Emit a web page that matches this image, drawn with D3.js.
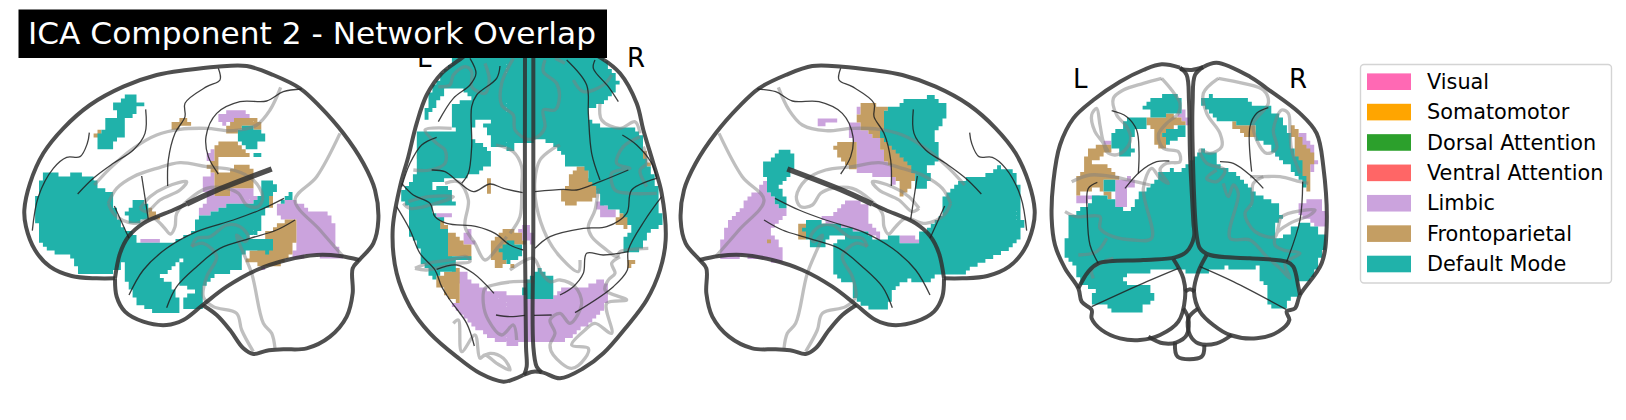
<!DOCTYPE html>
<html>
<head>
<meta charset="utf-8">
<script src="https://cdn.jsdelivr.net/npm/d3@7"></script>
<style>
html, body { margin: 0; padding: 0; background: #fff; overflow: hidden; }
text { font-family: "DejaVu Sans", sans-serif; }
</style>
</head>
<body>
<div id="main"></div>
<script>
var titleText = "ICA Component 2 - Network Overlap";
var networkNames = ["Visual", "Somatomotor", "Dorsal Attention", "Ventral Attention", "Limbic", "Frontoparietal", "Default Mode"];
var networkColors = ["#FF69B4", "#FFA500", "#2CA02C", "#FF6666", "#CBA3DD", "#C49E63", "#20B2AA"];

// glass brain template, side view (the right hand view is the same one flipped)
var sagOutline = [
  [[345,715],[290,715],[215,708],[150,680],[105,630],[78,560],[73,510],[90,430],[130,340],[190,265],[270,195],[370,140],[470,105],[560,90],[650,80],[740,78],[820,105],[900,145],[960,200],[1030,280],[1090,370],[1125,450],[1135,540],[1120,610],[1078,660],[1058,685],[1058,760],[1040,830],[990,890],[920,925],[850,928],[800,932],[760,942],[730,925],[690,870],[650,825],[608,795]],
  [[345,715],[350,770],[375,815],[430,845],[500,855],[550,840],[608,795],[680,740],[770,690],[860,660],[950,645],[1020,648],[1078,660]],
  [[345,715],[360,640],[385,590],[430,550],[520,510],[560,492]]
];
var sagThick = [
  [[560,492],[640,455],[815,387]]
];
var sagGray = [
  [[283,435],[330,385],[400,325],[470,285],[540,268],[620,265],[700,272],[770,255],[810,210],[842,142]],
  [[1020,280],[950,410],[885,480],[960,570],[1030,650]],
  [[325,490],[345,525],[400,550],[460,535],[490,560],[512,582],[525,560],[530,520],[565,480],[620,445],[680,445],[715,460],[740,495],[775,500],[788,470],[760,420],[700,390],[620,380],[540,368],[470,385],[400,410],[350,445],[325,490]],
  [[420,505],[450,470],[500,440],[560,425],[540,450],[480,480],[440,515],[420,505]],
  [[575,620],[590,595],[630,590],[680,555],[720,560],[745,590],[735,605],[710,585],[755,700],[790,850],[815,880],[825,925]],
  [[575,620],[610,610],[650,650],[620,710],[610,770],[640,800],[710,820],[725,870],[760,935]]
];
var sagThin = [
  [[97,572],[115,470],[160,385],[200,352],[240,350],[262,310],[268,278]],
  [[233,462],[280,415],[340,370],[400,330],[435,280],[437,208]],
  [[503,438],[505,360],[525,280],[555,230],[555,190],[620,140],[660,120],[655,85]],
  [[655,402],[625,350],[618,290],[650,220],[720,185],[800,183],[850,155],[905,147]],
  [[425,408],[445,538]],
  [[343,498],[387,595]],
  [[387,765],[430,690],[500,625],[590,575],[700,540],[780,510],[852,475]],
  [[500,803],[530,740],[590,680],[660,625],[750,595],[830,570],[885,540]]
];

// top view
var axialOutline = [
  [[470,10],[340,40],[270,88],[215,130],[170,195],[140,280],[115,380],[90,470],[68,600],[80,730],[120,830],[180,910],[260,980],[330,1030],[400,1055],[430,1048],[460,1035]],
  [[470,10],[600,40],[695,85],[750,130],[800,220],[820,300],[850,400],[875,490],[887,630],[870,720],[830,810],[770,890],[700,970],[640,1015],[570,1045],[520,1028],[490,1025],[460,1035]],
  [[465,60],[465,600],[468,950],[470,1010],[462,1035]],
  [[490,60],[490,600],[490,950],[500,1010],[515,1027]]
];
var axialGray = [
  [[205,170],[240,165],[250,135],[285,110],[305,125],[305,170],[325,185],[345,190],[358,150],[345,100]],
  [[430,85],[395,160],[395,225],[430,255],[435,300],[475,328],[510,315],[525,290],[520,240],[555,240],[568,205],[560,160],[520,125],[525,90]],
  [[555,85],[585,100]],
  [[610,150],[640,185],[700,165],[725,135]],
  [[690,220],[695,270],[750,295],[795,275],[810,310]],
  [[810,320],[760,350],[740,400],[780,415],[750,420],[725,430],[735,480],[780,490],[860,490]],
  [[830,470],[810,420],[830,400],[820,350]],
  [[570,345],[550,355],[510,390],[495,450],[500,530],[530,620],[570,680],[625,725],[630,690]],
  [[685,475],[675,540],[655,590],[665,620],[710,660],[740,680],[750,665],[835,655]],
  [[750,680],[725,700],[735,730],[715,750],[705,780],[770,810],[710,820],[725,910],[675,880],[645,900],[605,945],[655,955],[645,985],[605,1015],[550,975],[540,945],[555,910],[540,870],[570,850],[600,880],[635,820],[615,770],[570,750],[540,755],[515,730],[490,685],[420,720]],
  [[490,755],[430,755],[370,765],[345,775],[340,820],[355,870],[395,915],[430,885],[440,930]],
  [[250,880],[265,870],[275,965],[315,915],[330,985],[345,975],[380,1000],[420,1020],[400,985],[360,970],[330,985]],
  [[378,345],[430,365],[455,410],[455,470],[450,560],[420,610]],
  [[225,460],[265,455],[295,510],[285,590],[315,640],[345,690],[385,650],[410,620]],
  [[135,715],[175,700],[240,690],[290,680],[300,695],[260,700],[170,720],[135,715]],
  [[100,520],[120,535],[180,525],[250,500],[175,500],[115,515]],
  [[130,420],[180,420],[225,400],[225,360],[200,340],[165,300],[245,295]]
];
var axialThin = [
  [[300,85],[318,130],[300,165],[250,205],[205,275]],
  [[390,108],[380,145],[320,195],[305,230],[305,350],[295,430],[275,460]],
  [[200,322],[155,345],[120,400],[95,470]],
  [[185,420],[225,425],[270,460],[310,485],[360,462],[400,475],[458,488]],
  [[95,460],[130,495],[180,520],[195,560],[230,580],[320,590],[375,610],[420,645],[460,660]],
  [[80,530],[120,600],[150,670],[195,720],[215,770],[240,810],[290,880],[313,948]],
  [[200,718],[260,705],[310,730],[372,790]],
  [[378,855],[420,860],[465,856]],
  [[492,856],[545,855]],
  [[495,485],[580,478],[620,480],[690,455],[775,420]],
  [[590,90],[650,165],[655,250],[665,370],[690,450]],
  [[675,90],[670,115],[715,170],[745,215]],
  [[757,315],[800,345],[845,400],[860,445]],
  [[495,655],[540,620],[640,595],[710,590],[770,550],[785,480],[860,445]],
  [[875,500],[825,570],[775,660],[772,720],[730,770],[615,848]],
  [[775,665],[700,675],[650,670],[640,730],[610,770],[570,795]]
];

// back view
var coronalOutline = [
  [[510,38],[455,28],[400,45],[330,80],[250,135],[190,190],[150,270],[130,380],[125,490],[135,570],[165,640],[205,700],[215,740],[245,765],[245,790],[275,825],[330,850],[390,855],[450,840],[505,800],[525,730],[520,670],[490,612]],
  [[510,38],[530,60],[537,140],[540,300],[550,500],[552,545],[530,590],[495,607],[400,615],[265,625],[235,650],[205,700]],
  [[510,42],[545,45],[580,36]],
  [[580,36],[620,23],[720,65],[770,100],[870,175],[920,235],[940,335],[950,515],[935,625],[870,720],[855,760],[830,770],[838,795],[805,830],[740,850],[660,840],[610,810],[570,770],[552,710],[565,650],[590,600]],
  [[580,36],[555,60],[548,140],[548,280],[560,540],[570,580],[600,600],[720,610],[830,620],[850,635],[865,695],[870,720]],
  [[415,845],[460,865],[500,862],[530,840],[535,790],[520,760]],
  [[525,710],[540,703],[555,710]],
  [[665,840],[620,865],[565,865],[540,840],[535,790],[565,760]],
  [[495,862],[503,905],[575,905],[583,870]]
];
var coronalGray = [
  [[455,70],[400,85],[340,105],[310,130],[320,180],[350,215],[362,250],[345,285],[315,300],[290,290],[280,265],[255,230],[245,180],[260,160],[270,210],[280,260],[295,290]],
  [[455,70],[485,105],[510,145],[505,175],[470,205],[445,240],[460,280],[505,290],[510,320],[470,325],[450,345],[475,385],[450,370],[425,340],[400,400],[425,550],[370,555],[310,545],[270,520],[270,485],[200,485],[165,470]],
  [[185,380],[240,360],[310,365],[355,375],[420,390]],
  [[205,600],[260,590],[290,550]],
  [[250,670],[245,645],[280,620],[310,610]],
  [[625,70],[700,85],[760,105],[775,145],[730,205],[740,255],[770,295],[800,280],[790,225],[815,165],[835,175],[840,230],[845,285],[870,355]],
  [[625,70],[580,115],[590,175],[630,235],[635,275],[600,295],[570,285],[590,325],[645,345],[620,380],[590,370],[620,345]],
  [[760,365],[730,385],[725,445],[705,475],[735,530],[795,545],[805,515],[815,485],[915,465],[900,480],[840,505],[800,535],[795,570],[820,585],[870,595],[825,625],[840,670],[810,640],[770,605],[720,555],[660,550],[685,415],[670,390],[655,425],[640,385]],
  [[720,365],[760,365],[810,365],[870,380],[895,385]]
];
var coronalThin = [
  [[305,167],[350,185],[380,225],[387,290],[385,355]],
  [[345,400],[390,350],[440,320],[478,318]],
  [[262,382],[235,400],[232,480],[240,570],[265,625]],
  [[245,755],[410,680],[505,640]],
  [[775,158],[740,175],[720,215],[725,350]],
  [[630,320],[670,325],[720,360],[760,400]],
  [[878,380],[870,495],[830,620]],
  [[570,635],[670,680],[828,763]]
];

var leftLimbic = [
  [[650,230],[685,210],[740,210],[750,235],[710,235],[695,245],[675,255]],
  [[630,325],[650,325],[640,358],[620,358]],
  [[605,415],[640,400],[640,465],[685,465],[695,450],[755,450],[755,470],[780,465],[770,485],[700,490],[640,515],[595,535],[600,510],[618,490],[620,465],[605,455]],
  [[425,595],[482,595],[482,605],[425,610]],
  [[830,490],[885,480],[930,510],[965,515],[990,525],[1000,550],[1012,585],[1012,620],[1025,645],[1025,660],[980,660],[950,645],[870,655],[888,625],[888,540],[850,535],[830,520]],
  [[788,680],[800,680],[800,690],[788,690]]
];
var leftFronto = [
  [[515,245],[555,235],[572,245],[572,255],[525,265],[515,265]],
  [[695,245],[710,235],[775,235],[785,265],[730,260],[710,280],[680,280],[675,260]],
  [[650,315],[665,300],[710,305],[735,325],[750,345],[715,355],[660,355],[655,395],[695,395],[700,378],[750,378],[765,410],[765,445],[695,450],[685,465],[640,465],[640,400],[618,378],[640,360],[640,330]],
  [[800,470],[820,470],[820,500],[805,500]],
  [[450,505],[470,520],[482,530],[450,540]],
  [[840,550],[865,537],[888,540],[888,595],[875,630],[865,655],[840,680],[790,680],[760,670],[740,660],[755,628],[785,625],[800,600],[800,580],[825,565]],
  [[290,268],[303,268],[303,290],[280,300],[280,290]]
];
var leftDefault = [
  [[370,165],[414,165],[414,190],[438,190],[438,198],[414,200],[400,235],[380,235],[380,290],[350,300],[335,330],[312,330],[290,320],[290,290],[310,265],[320,240],[355,235],[355,220],[335,205],[335,190],[370,180]],
  [[132,402],[165,402],[200,412],[215,402],[245,402],[250,415],[285,415],[300,445],[335,460],[335,480],[345,490],[345,505],[365,560],[415,590],[415,610],[400,625],[380,640],[365,670],[365,695],[345,690],[345,705],[260,705],[235,695],[215,650],[155,635],[120,605],[120,550],[108,545],[108,480],[120,420],[132,420]],
  [[415,610],[520,610],[540,595],[585,570],[585,540],[640,515],[700,490],[760,490],[780,460],[805,460],[805,500],[790,530],[785,570],[775,580],[745,590],[800,600],[830,605],[810,640],[745,630],[720,660],[720,690],[640,710],[610,740],[605,805],[550,805],[550,770],[590,750],[545,740],[540,720],[545,660],[510,695],[480,710],[510,730],[540,790],[540,818],[470,818],[415,795],[400,770],[380,730],[380,640],[400,625]],
  [[405,480],[430,480],[450,510],[445,540],[395,548],[370,520],[390,500]],
  [[785,425],[820,415],[830,450],[815,465],[790,465]],
  [[855,470],[875,460],[875,480],[845,490]],
  [[730,260],[785,265],[798,300],[775,300],[775,330],[755,325],[735,325],[710,300],[710,280]],
  [[752,335],[785,335],[785,355],[765,355]]
];

var topLimbic = [
  [[262,720],[285,720],[300,755],[360,780],[460,800],[525,812],[550,800],[580,770],[650,770],[690,745],[715,760],[715,800],[695,850],[650,885],[590,930],[500,935],[420,945],[360,925],[300,880],[245,820],[265,815]],
  [[430,610],[458,590],[468,578],[490,610],[490,640],[465,635],[450,610]],
  [[275,610],[305,600],[312,640],[295,650],[280,640]],
  [[190,545],[240,550],[240,565],[215,570],[195,560]],
  [[215,590],[240,590],[230,600],[220,600]],
  [[680,520],[700,520],[740,550],[730,565],[690,560]]
];
var topFronto = [
  [[595,445],[615,425],[625,408],[660,418],[660,450],[690,455],[705,460],[680,480],[680,500],[660,515],[625,520],[600,530],[570,515],[570,480],[595,470]],
  [[345,465],[360,440],[367,445],[367,495],[350,490]],
  [[730,570],[750,555],[775,545],[780,575],[795,580],[780,590],[760,597],[750,585]],
  [[795,365],[830,365],[840,410],[830,410],[810,380]],
  [[772,690],[795,690],[785,712],[772,705]],
  [[365,640],[400,600],[425,600],[450,610],[465,640],[430,650],[415,670],[400,710],[385,720],[365,680]],
  [[230,600],[260,610],[280,640],[310,655],[300,690],[255,680],[230,690]],
  [[197,570],[215,575],[235,590],[215,595],[205,590]],
  [[200,745],[220,735],[265,710],[265,815],[240,810],[215,770],[195,765]],
  [[140,375],[155,375],[150,385],[140,385]],
  [[300,205],[315,205],[315,215],[300,215]],
  [[420,700],[435,692],[440,700],[425,710]],
  [[695,790],[715,790],[705,800]]
];
var topDefault = [
  [[270,60],[680,60],[745,150],[740,175],[690,225],[660,240],[660,270],[710,295],[780,290],[820,315],[815,365],[840,415],[865,485],[875,585],[850,595],[835,610],[815,650],[795,670],[760,670],[760,620],[790,600],[770,570],[750,545],[730,540],[690,520],[680,475],[660,450],[660,420],[615,410],[580,405],[580,380],[555,350],[520,330],[440,340],[430,360],[370,350],[360,320],[340,290],[375,265],[325,265],[302,310],[302,328],[345,345],[365,370],[365,400],[320,430],[270,445],[225,450],[185,465],[185,475],[225,470],[245,480],[255,530],[190,530],[190,545],[230,575],[200,570],[215,595],[230,600],[230,680],[300,680],[300,690],[255,690],[255,725],[215,725],[200,750],[190,750],[175,725],[155,700],[155,660],[120,620],[120,540],[95,510],[95,480],[120,460],[130,450],[140,410],[140,320],[150,298],[255,303],[245,260],[250,225],[305,205],[280,175],[230,170],[190,240],[165,270],[175,195],[215,135]],
  [[420,630],[455,650],[455,680],[430,690],[420,700],[400,690],[390,660]],
  [[480,745],[505,710],[530,735],[548,740],[548,800],[525,812],[460,800],[460,770]]
];

var rightLimbic = [
  [[620,140],[635,130],[632,165],[620,165]],
  [[600,185],[620,180],[640,210],[660,220],[685,240],[695,265],[705,295],[725,320],[730,350],[745,375],[725,375],[720,350],[665,345],[620,340],[620,255],[610,240],[590,215]],
  [[508,175],[550,175],[565,190],[508,195]],
  [[328,378],[350,365],[355,400],[375,420],[385,440],[405,450],[405,465],[385,480],[370,505],[355,525],[385,535],[395,575],[405,610],[375,605],[340,595],[280,590],[215,598],[215,545],[225,510],[240,480],[270,455],[295,410],[325,395]],
  [[510,465],[550,465],[590,420],[625,420],[655,440],[655,480],[670,495],[685,520],[690,540],[650,520],[600,505],[540,490],[510,475]],
  [[745,520],[790,530],[812,545],[812,555],[755,545]]
];
var rightFronto = [
  [[635,128],[710,140],[700,190],[700,230],[740,260],[760,290],[790,315],[800,345],[775,395],[755,405],[745,370],[730,350],[725,320],[705,295],[695,265],[685,240],[660,220],[640,210],[620,180],[630,160]],
  [[575,240],[610,240],[620,255],[620,330],[600,330],[590,310],[575,305],[562,275],[552,265]],
  [[440,500],[475,490],[462,535],[442,535]],
  [[350,533],[360,533],[360,545],[350,545]]
];
var rightDefault = [
  [[870,430],[890,400],[920,375],[945,355],[1005,350],[1040,320],[1090,330],[1115,400],[1118,500],[1105,545],[1060,578],[1010,598],[965,625],[935,645],[850,645],[845,668],[790,668],[780,655],[730,690],[725,720],[712,745],[655,745],[610,715],[610,690],[615,665],[580,665],[545,635],[545,600],[552,580],[552,550],[585,530],[530,533],[520,565],[490,565],[465,530],[460,510],[475,478],[540,490],[600,505],[650,520],[690,545],[700,535],[745,520],[755,545],[805,555],[815,510],[835,510],[870,470],[880,440]],
  [[385,272],[415,272],[440,300],[430,320],[415,350],[385,375],[405,410],[415,440],[385,440],[375,420],[350,385],[352,362],[338,340],[338,310],[372,290]],
  [[700,150],[735,140],[770,118],[800,118],[850,105],[890,140],[890,160],[880,190],[860,210],[850,235],[868,255],[870,285],[855,310],[830,320],[845,355],[825,360],[825,385],[790,385],[790,340],[770,305],[745,280],[700,235],[690,230],[700,190]]
];

var backLimbic = [
  [[500,175],[530,165],[535,215],[520,200]],
  [[285,255],[300,255],[300,265],[285,265]],
  [[320,375],[365,365],[375,395],[355,400],[350,450],[320,455],[310,430],[320,410]],
  [[195,420],[265,420],[265,430],[225,440],[195,445]],
  [[330,575],[345,590],[375,600],[375,612],[345,612],[330,600]],
  [[725,600],[760,600],[760,615],[725,612]],
  [[612,568],[624,568],[624,580],[612,580]],
  [[860,220],[885,240],[915,285],[920,325],[905,355],[890,315],[870,265]],
  [[860,455],[900,435],[930,430],[942,465],[942,510],[915,510],[880,485],[860,480]],
  [[795,295],[805,295],[805,310],[795,310]]
];
var backFronto = [
  [[410,185],[432,195],[470,180],[495,180],[530,205],[470,225],[462,240],[468,285],[432,270],[432,220],[410,215]],
  [[240,285],[295,260],[310,285],[270,305],[225,345],[218,320]],
  [[345,260],[365,265],[365,285],[345,285]],
  [[245,330],[295,330],[320,360],[360,365],[280,375],[275,405],[250,400],[195,420],[195,385],[215,350]],
  [[285,410],[310,420],[310,430],[285,425]],
  [[285,525],[300,525],[330,560],[330,590],[305,590],[295,550]],
  [[660,195],[675,205],[725,205],[735,220],[735,250],[715,250],[700,230],[670,225]],
  [[840,210],[860,220],[870,240],[885,270],[915,305],[915,320],[900,335],[905,415],[895,410],[875,365],[850,315],[850,255]],
  [[840,535],[852,535],[852,547],[840,547]],
  [[802,555],[815,555],[815,567],[802,567]],
  [[738,615],[750,615],[750,625],[738,625]]
];
var backDefault = [
  [[400,155],[430,130],[490,115],[505,120],[520,165],[495,180],[470,180],[430,195],[420,165],[400,165]],
  [[345,195],[365,182],[412,182],[412,215],[375,225],[360,285],[310,285],[310,230],[340,225]],
  [[332,285],[375,285],[365,305],[332,305]],
  [[465,225],[530,210],[530,235],[470,270],[462,240]],
  [[535,320],[550,305],[570,285],[615,290],[615,325],[675,355],[730,410],[800,445],[815,485],[800,505],[795,550],[835,540],[845,515],[870,505],[915,510],[930,535],[942,535],[942,585],[925,625],[900,675],[870,680],[870,720],[840,735],[825,760],[785,755],[770,730],[770,690],[750,680],[750,635],[680,645],[650,635],[600,650],[560,655],[530,655],[515,640],[430,640],[420,650],[350,650],[340,680],[300,680],[280,695],[240,700],[215,690],[190,630],[162,600],[162,550],[175,550],[175,490],[200,470],[245,440],[240,415],[305,430],[320,455],[355,465],[375,445],[395,410],[430,385],[450,350],[485,345],[510,350]],
  [[260,700],[300,680],[420,690],[432,730],[400,755],[395,768],[300,768],[290,755],[235,740],[255,715]],
  [[275,375],[320,375],[320,410],[300,415],[275,405]],
  [[568,140],[605,120],[615,130],[670,130],[695,130],[725,140],[725,150],[780,150],[785,175],[810,180],[840,240],[850,285],[870,315],[885,365],[890,410],[875,380],[840,335],[795,300],[785,275],[740,250],[735,215],[725,205],[675,205],[660,195],[625,195],[590,165]]
];

var W = 1626, H = 420;
var voxel = 11.7; // voxel edge in template units

var svg = d3.select("#main").append("svg")
  .attr("width", W)
  .attr("height", H)
  .style("display", "block");

function makeView(xDomain, xRange, yDomain, yRange) {
  return { x: d3.scaleLinear().domain(xDomain).range(xRange), y: d3.scaleLinear().domain(yDomain).range(yRange) };
}

var viewLeft = makeView([0, 1140], [0, 380], [0, 960], [40, 360]);
var viewRight = makeView([0, 1140], [1059, 679], [0, 960], [40, 360]); // same template mirrored
var viewRightBlobs = makeView([0, 1080], [650, 1010], [0, 870], [60, 350]);
var viewTop = makeView([0, 840], [370, 650], [0, 1035], [30, 375]);
var viewBack = makeView([0, 870], [1010, 1300], [0, 900], [55, 355]);

// fill one network's outlines voxel by voxel, one path so the voxel seams don't show
function drawRegions(polys, color, view) {
  var p = d3.path();
  polys.forEach(function(poly) {
    var ex = d3.extent(poly, function(d) { return d[0]; });
    var ey = d3.extent(poly, function(d) { return d[1]; });
    d3.range(Math.floor(ex[0] / voxel), Math.ceil(ex[1] / voxel)).forEach(function(i) {
      d3.range(Math.floor(ey[0] / voxel), Math.ceil(ey[1] / voxel)).forEach(function(j) {
        if (d3.polygonContains(poly, [(i + 0.5) * voxel, (j + 0.5) * voxel])) {
          var x0 = view.x(i * voxel), x1 = view.x((i + 1) * voxel);
          var y0 = view.y(j * voxel), y1 = view.y((j + 1) * voxel);
          p.rect(Math.min(x0, x1), y0, Math.abs(x1 - x0), y1 - y0);
        }
      });
    });
  });
  svg.append("path").attr("d", p.toString()).attr("fill", color);
}

function drawLines(paths, view, color, width, opacity) {
  var line = d3.line()
    .x(function(d) { return view.x(d[0]); })
    .y(function(d) { return view.y(d[1]); })
    .curve(d3.curveCatmullRom.alpha(0.5));
  paths.forEach(function(d) {
    svg.append("path")
      .attr("d", line(d))
      .attr("fill", "none")
      .attr("stroke", color)
      .attr("stroke-width", width)
      .attr("stroke-opacity", opacity)
      .attr("stroke-linejoin", "round");
  });
}

function drawTemplate(view, outline, gray, thin) {
  drawLines(gray, view, "#808080", 3.3, 0.5);
  drawLines(outline, view, "#303030", 4, 0.85);
  drawLines(thin, view, "#202020", 1.3, 0.85);
}

drawRegions(leftLimbic, networkColors[4], viewLeft);
drawRegions(leftFronto, networkColors[5], viewLeft);
drawRegions(leftDefault, networkColors[6], viewLeft);
drawTemplate(viewLeft, sagOutline, sagGray, sagThin);
drawLines(sagThick, viewLeft, "#303030", 5.5, 0.85);

drawRegions(topLimbic, networkColors[4], viewTop);
drawRegions(topFronto, networkColors[5], viewTop);
drawRegions(topDefault, networkColors[6], viewTop);
drawTemplate(viewTop, axialOutline, axialGray, axialThin);

drawRegions(rightLimbic, networkColors[4], viewRightBlobs);
drawRegions(rightFronto, networkColors[5], viewRightBlobs);
drawRegions(rightDefault, networkColors[6], viewRightBlobs);
drawTemplate(viewRight, sagOutline, sagGray, sagThin);
drawLines(sagThick, viewRight, "#303030", 5.5, 0.85);

drawRegions(backLimbic, networkColors[4], viewBack);
drawRegions(backFronto, networkColors[5], viewBack);
drawRegions(backDefault, networkColors[6], viewBack);
drawTemplate(viewBack, coronalOutline, coronalGray, coronalThin);

// L / R markers
[["L", 417, 66.5], ["R", 627, 66.5], ["L", 1073, 88], ["R", 1289, 88]].forEach(function(d) {
  svg.append("text").attr("x", d[1]).attr("y", d[2]).attr("font-size", 26).attr("fill", "#000").text(d[0]);
});

// title
svg.append("rect").attr("x", 18.5).attr("y", 9.5).attr("width", 588.5).attr("height", 48.5).attr("fill", "#000");
svg.append("text").attr("x", 28).attr("y", 43.5).attr("font-size", 31).attr("textLength", 568).attr("lengthAdjust", "spacingAndGlyphs").attr("fill", "#fff").text(titleText);

// legend
var legend = svg.append("g");
legend.append("rect")
  .attr("x", 1360.5).attr("y", 64.5).attr("width", 251).attr("height", 218.5).attr("rx", 3.5)
  .attr("fill", "#fff").attr("stroke", "#d4d4d4").attr("stroke-width", 1.4);
var rowY = d3.scalePoint().domain(networkNames).range([81.7, 264]);
networkNames.forEach(function(name, i) {
  legend.append("rect").attr("x", 1367).attr("y", rowY(name) - 8.3).attr("width", 44).attr("height", 16.6).attr("fill", networkColors[i]);
  legend.append("text").attr("x", 1427).attr("y", rowY(name) + 7.2).attr("font-size", 20.8).attr("fill", "#000").text(name);
});
</script>
</body>
</html>
